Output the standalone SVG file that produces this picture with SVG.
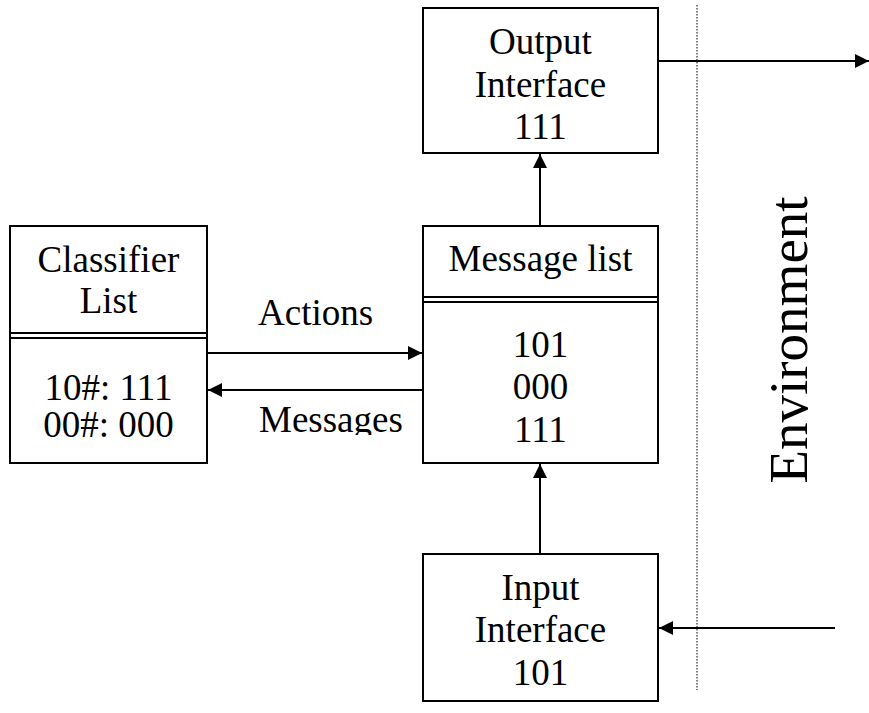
<svg xmlns="http://www.w3.org/2000/svg" width="869" height="713" viewBox="0 0 869 713">
<style>
.box{fill:#fff;stroke:#000;stroke-width:2}
.sep{stroke:#000;stroke-width:2;fill:none}
.t{font-family:"Liberation Serif","Times New Roman",serif;font-size:37px;fill:#000;text-anchor:middle}
.tl{font-family:"Liberation Serif","Times New Roman",serif;font-size:37px;fill:#000}
.c{stroke:#000;stroke-width:2;fill:none}
</style>
<defs>
<marker id="ah" markerUnits="userSpaceOnUse" markerWidth="16" markerHeight="16" refX="14" refY="7" orient="auto">
<path d="M0,0 L14,7 L0,14 z" fill="#000"/>
</marker>
<clipPath id="msgclip"><rect x="240" y="395" width="180" height="40"/></clipPath>
</defs>
<rect width="869" height="713" fill="#fff"/>
<line x1="697" y1="5" x2="697" y2="690" stroke="#000" stroke-width="1" stroke-dasharray="1.5,1.5"/>
<g id="output-interface">
<rect class="box" x="423" y="8" width="235" height="145"/>
<text class="t" x="540.5" y="54">Output</text>
<text class="t" x="540.5" y="97">Interface</text>
<text class="t" x="540.5" y="139">111</text>
</g>
<g id="classifier-list">
<rect class="box" x="10" y="226" width="197" height="237"/>
<line class="sep" x1="10" y1="333" x2="207" y2="333"/>
<line class="sep" x1="10" y1="338" x2="207" y2="338"/>
<text class="t" x="108.5" y="272">Classifier</text>
<text class="t" x="108.5" y="313">List</text>
<text class="t" x="108.5" y="400">10#: 111</text>
<text class="t" x="108.5" y="437">00#: 000</text>
</g>
<g id="message-list">
<rect class="box" x="423" y="226" width="235" height="237"/>
<line class="sep" x1="423" y1="297" x2="658" y2="297"/>
<line class="sep" x1="423" y1="302" x2="658" y2="302"/>
<text class="t" x="540.5" y="271">Message list</text>
<text class="t" x="540.5" y="357">101</text>
<text class="t" x="540.5" y="399">000</text>
<text class="t" x="540.5" y="442">111</text>
</g>
<g id="input-interface">
<rect class="box" x="423" y="554" width="235" height="147"/>
<text class="t" x="540.5" y="600">Input</text>
<text class="t" x="540.5" y="642">Interface</text>
<text class="t" x="540.5" y="685">101</text>
</g>
<g id="environment">
<text class="t" transform="translate(807,340) rotate(-90)" style="font-size:55px">Environment</text>
</g>
<g id="connectors">
<line class="c" x1="658" y1="61" x2="869" y2="61" marker-end="url(#ah)"/>
<line class="c" x1="540" y1="226" x2="540" y2="154" marker-end="url(#ah)"/>
<line class="c" x1="540" y1="554" x2="540" y2="464" marker-end="url(#ah)"/>
<line class="c" x1="835" y1="628" x2="659" y2="628" marker-end="url(#ah)"/>
<line class="c" x1="207" y1="353" x2="422" y2="353" marker-end="url(#ah)"/>
<line class="c" x1="423" y1="390" x2="208" y2="390" marker-end="url(#ah)"/>
<text class="tl" x="258" y="325">Actions</text>
<text class="tl" x="259" y="432" clip-path="url(#msgclip)">Messages</text>
</g>
</svg>
